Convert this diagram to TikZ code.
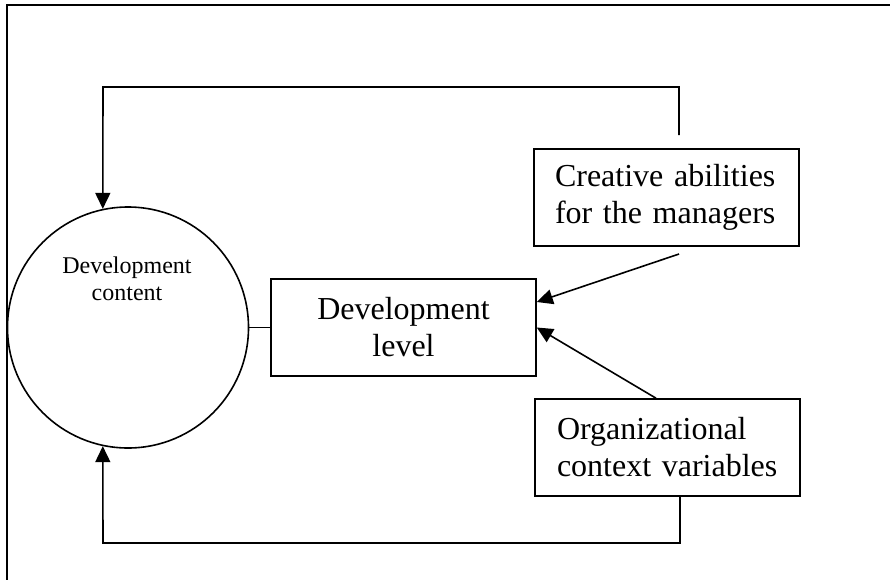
\documentclass[tikz,border=0pt]{standalone}
\usepackage{fontspec}
\setmainfont{Liberation Serif}
\usetikzlibrary{arrows.meta}
\begin{document}
\begin{tikzpicture}[x=1pt,y=-1pt,
  ln/.style={line width=1.6pt},
  arr/.style={ln,-{Triangle[length=16pt,width=15pt]}},
  boxnode/.style={draw,line width=1.6pt,minimum width=265pt,minimum height=97pt,font=\fontsize{32}{37}\selectfont},
]
\clip (0,0) rectangle (890,579);
\draw[line width=1.8pt] (7,5) rectangle (900,600);
\node[draw,circle,line width=1.6pt,minimum size=241pt,inner sep=0pt] (dc) at (128,327.5) {};
\node[font=\fontsize{24}{27.5}\selectfont,align=center] (dct) at (127,279) {Development\\content};
\node[boxnode,align=center] (dl) at (403.5,327.5) {Development\\level};
\node[boxnode,text width=223pt,inner xsep=21pt,align=left] (ca) at (666.5,197.5) {Creative abilities\\for the managers};
\node[boxnode,text width=221pt,inner xsep=22pt,align=left] (oc) at (667.5,447.5) {Organizational\\context variables};
\coordinate (t1) at (679,135);
\coordinate (tc) at (103,87);
\coordinate (u1) at (679,254);
\coordinate (bc) at (103,543);
\draw[arr] (t1) |- (tc) -- (dc.102);
\draw[ln] (dc.east) -- (dl.west);
\draw[arr] (u1) -- ([yshift=25.5pt]dl.east);
\draw[arr] ([xshift=-11.5pt]oc.north) -- (dl.east);
\draw[arr] ([xshift=12.5pt]oc.south) |- (bc) -- (dc.258);
\end{tikzpicture}
\end{document}
